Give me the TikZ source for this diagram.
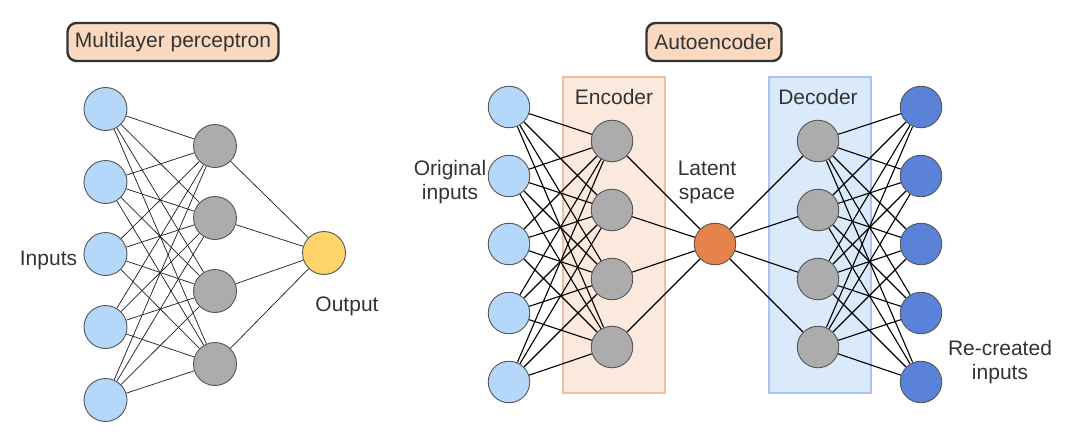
\documentclass[tikz,border=0pt]{standalone}
\usepackage{fontspec}
\setmainfont{Liberation Sans}
\definecolor{inblue}{HTML}{B5D8FA}
\definecolor{hidgray}{HTML}{ACACAC}
\definecolor{outyellow}{HTML}{FFD46A}
\definecolor{latorange}{HTML}{E6834A}
\definecolor{outblue}{HTML}{5A82D8}
\definecolor{encfill}{HTML}{FBE9DD}
\definecolor{encline}{HTML}{EFBFA2}
\definecolor{decfill}{HTML}{DAEAFA}
\definecolor{decline}{HTML}{A9C4EE}
\definecolor{titlefill}{HTML}{FAD9C0}
\definecolor{txt}{HTML}{333333}
\definecolor{rim}{HTML}{555555}
\pgfdeclarelayer{boxlayer}
\pgfdeclarelayer{edgelayer}
\pgfsetlayers{boxlayer,edgelayer,main}
\begin{document}
\begin{tikzpicture}[x=1pt,y=-1pt,
  neuron/.style={circle,draw=rim,line width=0.9pt,inner sep=0pt,minimum size=43pt},
  aeneuron/.style={neuron,minimum size=41.5pt},
  lbl/.style={text=txt,font=\fontsize{21}{24}\selectfont,align=center,inner sep=0pt},
  titlebox/.style={lbl,draw=txt,line width=2.4pt,fill=titlefill,rounded corners=9pt,inner xsep=6pt,minimum height=38pt},
  mlpedge/.style={draw=black!85,line width=0.75pt},
  aeedge/.style={draw=black,line width=1.1pt},
  layerbox/.style={line width=2.6pt}]
\useasboundingbox (0,0) rectangle (1070,444);
% ---- boxes
\begin{pgfonlayer}{boxlayer}
\draw[layerbox,draw=encline,fill=encfill] (563,77) rectangle (665,393);
\draw[layerbox,draw=decline,fill=decfill] (769,77) rectangle (871,393);
\end{pgfonlayer}
% ---- titles
\node[titlebox,minimum width=211pt] (t1) at (173,42) {Multilayer perceptron};
\node[titlebox,minimum width=135pt] (t2) at (714,42) {Autoencoder};
% ---- MLP nodes
\foreach \i/\y in {1/109,2/182,3/254,4/327,5/400}
  \node[neuron,fill=inblue] (mi\i) at (105.5,\y) {};
\foreach \j/\y in {1/146,2/218,3/291,4/364}
  \node[neuron,fill=hidgray] (mh\j) at (215,\y) {};
\node[neuron,fill=outyellow] (mo) at (324,253) {};
% ---- AE nodes
\foreach \i/\y in {1/107,2/176,3/244,4/313,5/382}
  \node[aeneuron,fill=inblue] (ai\i) at (509,\y) {};
\foreach \j/\y in {1/141,2/210,3/279,4/347}
  \node[aeneuron,fill=hidgray] (ae\j) at (612,\y) {};
\node[aeneuron,fill=latorange] (al) at (715,244) {};
\foreach \j/\y in {1/141,2/210,3/279,4/347}
  \node[aeneuron,fill=hidgray] (ad\j) at (818,\y) {};
\foreach \i/\y in {1/107,2/176,3/244,4/313,5/382}
  \node[aeneuron,fill=outblue] (ao\i) at (921,\y) {};
% ---- edges
\begin{pgfonlayer}{edgelayer}
\foreach \i in {1,...,5}
  \foreach \j in {1,...,4}
    \path[mlpedge] (mi\i) -- (mh\j);
\foreach \j in {1,...,4}
  \path[mlpedge] (mh\j) -- (mo);
\foreach \i in {1,...,5}
  \foreach \j in {1,...,4}
    \path[aeedge] (ai\i) -- (ae\j);
\foreach \j in {1,...,4}{
  \path[aeedge] (ae\j) -- (al);
  \path[aeedge] (al) -- (ad\j);}
\foreach \j in {1,...,4}
  \foreach \i in {1,...,5}
    \path[aeedge] (ad\j) -- (ao\i);
\end{pgfonlayer}
% ---- labels
\node[lbl] (linp) at (48.5,260) {Inputs};
\node[lbl] (lout) at (347,306) {Output};
\node[lbl] (lorig) at (450,182) {Original\\inputs};
\node[lbl] (llat) at (707,182) {Latent\\space};
\node[lbl] (lenc) at (614,97) {Encoder};
\node[lbl] (ldec) at (818,97) {Decoder};
\node[lbl] (lrec) at (1000,362) {Re-created\\inputs};
\end{tikzpicture}
\end{document}
